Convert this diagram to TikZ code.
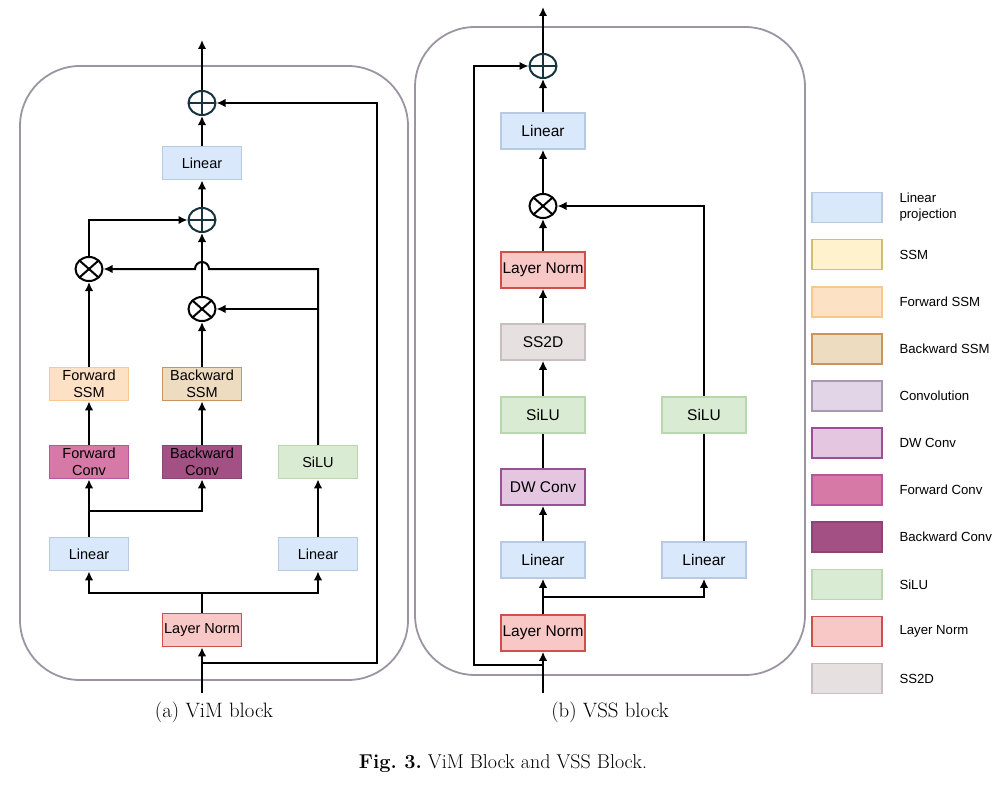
\documentclass[tikz,border=0pt]{standalone}
\usepackage{fontspec}
\newfontfamily\arialfont{Liberation Sans}
\usepackage{tikz}
\usetikzlibrary{calc}
\usetikzlibrary{arrows.meta}
\usetikzlibrary{shapes.geometric}
\frenchspacing

\definecolor{linfill}{HTML}{DAE8FC}
\definecolor{linline}{HTML}{B8C9E2}
\definecolor{ssmfill}{HTML}{FFF2CC}
\definecolor{ssmline}{HTML}{D0BE78}
\definecolor{fssmfill}{HTML}{FDE1C4}
\definecolor{fssmline}{HTML}{F7C98F}
\definecolor{bssmfill}{HTML}{EEDCC0}
\definecolor{bssmline}{HTML}{C9955E}
\definecolor{convfill}{HTML}{E1D5E7}
\definecolor{convline}{HTML}{A898B0}
\definecolor{dwfill}{HTML}{E4C6E1}
\definecolor{dwline}{HTML}{9A4F97}
\definecolor{fconvfill}{HTML}{D679A7}
\definecolor{fconvline}{HTML}{B8559B}
\definecolor{bconvfill}{HTML}{A35185}
\definecolor{bconvline}{HTML}{8E4475}
\definecolor{silufill}{HTML}{D9EBD3}
\definecolor{siluline}{HTML}{B9D7AE}
\definecolor{normfill}{HTML}{F8C8C6}
\definecolor{normline}{HTML}{CF4F4A}
\definecolor{ssdfill}{HTML}{E6E0E0}
\definecolor{ssdline}{HTML}{C8C0C0}
\definecolor{frameline}{HTML}{9C94A2}
\definecolor{plusline}{HTML}{15343E}

\tikzstyle{every node}=[font=\arialfont\fontsize{14.5}{17.5}\selectfont]
\tikzstyle{blk}=[draw, line width=1.6pt, minimum width=79pt, minimum height=33pt, inner sep=0pt, align=center]
\tikzstyle{wblk}=[blk, minimum width=84pt, minimum height=36pt, font=\arialfont\fontsize{15.5}{18}\selectfont]
\tikzstyle{lin}=[fill=linfill, draw=linline]
\tikzstyle{ssm}=[fill=ssmfill, draw=ssmline]
\tikzstyle{fssm}=[fill=fssmfill, draw=fssmline]
\tikzstyle{bssm}=[fill=bssmfill, draw=bssmline]
\tikzstyle{conv}=[fill=convfill, draw=convline]
\tikzstyle{dw}=[fill=dwfill, draw=dwline]
\tikzstyle{fconv}=[fill=fconvfill, draw=fconvline]
\tikzstyle{bconv}=[fill=bconvfill, draw=bconvline]
\tikzstyle{silu}=[fill=silufill, draw=siluline]
\tikzstyle{norm}=[fill=normfill, draw=normline]
\tikzstyle{ssd}=[fill=ssdfill, draw=ssdline]
\tikzstyle{legbox}=[draw, line width=1.6pt, minimum width=70pt, minimum height=30pt, inner sep=0pt]
\tikzstyle{legtxt}=[anchor=west, inner sep=0pt, align=left, font=\arialfont\fontsize{13.2}{16}\selectfont]
\tikzstyle{frame}=[draw=frameline, line width=1.8pt, rounded corners=60pt]
\tikzstyle{plus}=[ellipse, draw=plusline, line width=2pt, minimum width=27pt, minimum height=24pt, inner sep=0pt,
    path picture={\draw[plusline, line width=2pt] (path picture bounding box.north) -- (path picture bounding box.south)
        (path picture bounding box.west) -- (path picture bounding box.east);}]
\tikzstyle{mul}=[ellipse, draw, line width=2pt, minimum width=27pt, minimum height=24pt, inner sep=0pt,
    path picture={\draw[line width=2pt] (path picture bounding box.north west) -- (path picture bounding box.south east)
        (path picture bounding box.south west) -- (path picture bounding box.north east);}]
\tikzstyle{subcap}=[font=\rmfamily\fontsize{20.8}{24}\selectfont]

\begin{document}
\begin{tikzpicture}[x=1pt, y=-1pt, line width=2pt, >={Latex[length=9pt,width=8.5pt]}]

                \useasboundingbox (0,0) rectangle (1006,784);

                \draw[frame] (20,66) rectangle (408,680);
                \draw[frame] (415,27) rectangle (805,675);

                \coordinate (a-top) at (202,40);
                \coordinate (a-in) at (202,693);
                \coordinate (a-skip) at (202,663);
                \coordinate (a-skipr) at (377,663);
                \coordinate (a-skipt) at (377,103);
                \coordinate (a-split) at (202,593);
                \coordinate (a-fork) at (89,511);
                \coordinate (a-gate) at (318,269);

                \node [plus] (a-add2) at (202,103) {};
                \node [blk, lin] (a-lin3) at (202,163) {Linear};
                \node [plus] (a-add1) at (202,220) {};
                \node [mul] (a-mul1) at (89,269) {};
                \node [mul] (a-mul2) at (202,309) {};
                \node [blk, fssm] (a-fssm) at (89,384) {Forward\\SSM};
                \node [blk, bssm] (a-bssm) at (202,384) {Backward\\SSM};
                \node [blk, fconv] (a-fconv) at (89,462) {Forward\\Conv};
                \node [blk, bconv] (a-bconv) at (202,462) {Backward\\Conv};
                \node [blk, silu] (a-silu) at (318,462) {SiLU};
                \node [blk, lin] (a-lin1) at (89,554) {Linear};
                \node [blk, lin] (a-lin2) at (318,554) {Linear};
                \node [blk, norm] (a-norm) at (202,630) {Layer Norm};
                \node [subcap] (a-cap) at (214,712) {(a) ViM block};

                \draw[->] (a-in) -- (a-norm);
                \draw[->] (a-skip) -- (a-skipr) -- (a-skipt) -- (a-add2.east);
                \draw (a-norm) -- (a-split);
                \draw[->] (a-split) -| (a-lin1);
                \draw[->] (a-split) -| (a-lin2);
                \draw[->] (a-lin1) -- (a-fconv);
                \draw[->] (a-fork) -| (a-bconv);
                \draw[->] (a-lin2) -- (a-silu);
                \draw[->] (a-fconv) -- (a-fssm);
                \draw[->] (a-bconv) -- (a-bssm);
                \draw[->] (a-fssm) -- (a-mul1);
                \draw[->] (a-bssm) -- (a-mul2);
                \draw[->] (a-silu.north) |- (a-mul2.east);
                \draw[->] (a-silu.north) -- (a-gate) -- ($(a-mul2 |- a-gate)+(7,0)$)
                    arc[start angle=0, end angle=180, radius=7pt] -- (a-mul1.east);
                \draw[->] (a-mul2) -- (a-add1);
                \draw[->] (a-mul1.north) |- (a-add1.west);
                \draw[->] (a-add1) -- (a-lin3);
                \draw[->] (a-lin3) -- (a-add2);
                \draw[->] (a-add2) -- (a-top);

                \coordinate (b-top) at (543,7);
                \coordinate (b-in) at (543,693);
                \coordinate (b-skip) at (543,665);
                \coordinate (b-skipl) at (474,665);
                \coordinate (b-skipt) at (474,66);
                \coordinate (b-split) at (543,597);

                \node [plus] (b-add) at (543,66) {};
                \node [wblk, lin] (b-lin3) at (543,131) {Linear};
                \node [mul] (b-mul) at (543,206) {};
                \node [wblk, norm] (b-norm2) at (543,270) {Layer Norm};
                \node [wblk, ssd] (b-ss2d) at (543,342) {SS2D};
                \node [wblk, silu] (b-silu1) at (543,415) {SiLU};
                \node [wblk, silu] (b-silu2) at (704,415) {SiLU};
                \node [wblk, dw] (b-dw) at (543,487) {DW Conv};
                \node [wblk, lin] (b-lin1) at (543,560) {Linear};
                \node [wblk, lin] (b-lin2) at (704,560) {Linear};
                \node [wblk, norm] (b-norm1) at (543,633) {Layer Norm};
                \node [subcap] (b-cap) at (610,712) {(b) VSS block};

                \draw[->] (b-in) -- (b-norm1);
                \draw[->] (b-skip) -- (b-skipl) -- (b-skipt) -- (b-add.west);
                \draw[->] (b-norm1) -- (b-lin1);
                \draw[->] (b-split) -| (b-lin2);
                \draw[->] (b-lin1) -- (b-dw);
                \draw (b-dw) -- (b-silu1);
                \draw[->] (b-silu1) -- (b-ss2d);
                \draw[->] (b-ss2d) -- (b-norm2);
                \draw[->] (b-norm2) -- (b-mul);
                \draw (b-lin2) -- (b-silu2);
                \draw[->] (b-silu2.north) |- (b-mul.east);
                \draw[->] (b-mul) -- (b-lin3);
                \draw[->] (b-lin3) -- (b-add);
                \draw[->] (b-add) -- (b-top);

                \foreach \sty/\txt [count=\i from 0] in {lin/{Linear\\projection}, ssm/SSM, fssm/Forward SSM,
                    bssm/Backward SSM, conv/Convolution, dw/DW Conv, fconv/Forward Conv, bconv/Backward Conv,
                    silu/SiLU, norm/Layer Norm, ssd/SS2D}
                {
                    \node [legbox, style=\sty] (leg-\i) at (846.7, {207.5+47.1*\i}) {};
                    \node [legtxt] (legt-\i) at ($(leg-\i.east)+(16,0)$) {\txt};
                }

                \node [font=\rmfamily\fontsize{20}{23}\selectfont] (fig-cap) at (503,764)
                    {\textbf{Fig. 3.} ViM Block and VSS Block.};

            \end{tikzpicture}
\end{document}
